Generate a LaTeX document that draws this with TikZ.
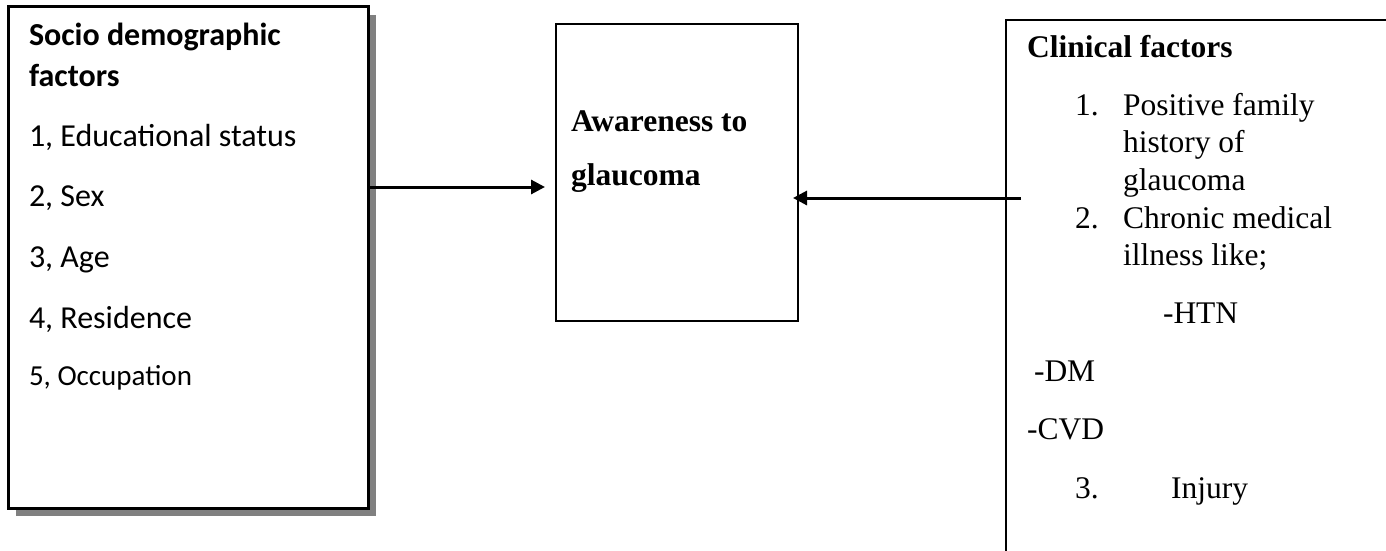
\documentclass[tikz,border=0pt]{standalone}
\usepackage{fontspec}
\setmainfont{Liberation Serif}
\newfontfamily\calib{Carlito}
\usetikzlibrary{arrows.meta,shadows}
\tikzset{
  box/.style={draw=black, rectangle, inner sep=0pt, outer sep=0pt, fill=white},
  arr/.style={line width=3pt, -{Triangle[length=14pt,width=14pt]}},
  txt/.style={anchor=base west, inner sep=0pt, outer sep=0pt},
  cfont/.style={font=\calib\fontsize{32}{38}\selectfont},
  cbold/.style={font=\calib\bfseries\fontsize{32}{38}\selectfont},
  tfont/.style={font=\fontsize{31.5}{38}\selectfont},
  tbold/.style={font=\bfseries\fontsize{31.5}{38}\selectfont},
}
\begin{document}
\begin{tikzpicture}[x=1pt,y=-1pt]
\clip (0,0) rectangle (1386,551);
\fill[white] (0,0) rectangle (1386,551);
% boxes
\node[box, line width=3pt, minimum width=360pt, minimum height=501pt,
  drop shadow={shadow xshift=8pt, shadow yshift=-8pt, fill=gray, opacity=1}]
  (sd) at (188,257.5) {};
\node[box, line width=2pt, minimum width=242pt, minimum height=297pt] (aw) at (677,172.5) {};
\node[box, line width=2pt, minimum width=494pt, minimum height=680pt] (cf) at (1253,360) {};
% left text
\node[txt, cbold] (s1) at (29,46) {Socio demographic};
\node[txt, cbold] (s2) at (29,86) {factors};
\node[txt, cfont] (s3) at (29,146) {1, Educational status};
\node[txt, cfont] (s4) at (29,206) {2, Sex};
\node[txt, cfont] (s5) at (29,267) {3, Age};
\node[txt, cfont] (s6) at (29,328) {4, Residence};
\node[txt, font=\calib\fontsize{29}{35}\selectfont] (s7) at (29,385) {5, Occupation};
% middle text
\node[txt, tbold] (m1) at (571,131) {Awareness to};
\node[txt, tbold] (m2) at (571,185) {glaucoma};
% right text
\node[txt, tbold] (c0) at (1027,58) {Clinical factors};
\node[txt, tfont] (c1n) at (1075,115) {1.};
\node[txt, tfont] (c1) at (1123,115) {Positive family};
\node[txt, tfont] (c1b) at (1123,152) {history of};
\node[txt, tfont] (c1c) at (1123,190) {glaucoma};
\node[txt, tfont] (c2n) at (1075,228) {2.};
\node[txt, tfont] (c2) at (1123,228) {Chronic medical};
\node[txt, tfont] (c2b) at (1123,265) {illness like;};
\node[txt, tfont] (c3) at (1163,323) {-HTN};
\node[txt, tfont] (c4) at (1034,381) {-DM};
\node[txt, tfont] (c5) at (1027,439) {-CVD};
\node[txt, tfont] (c6n) at (1075,498) {3.};
\node[txt, tfont] (c6) at (1171,498) {Injury};
% connectors
\coordinate (y1) at (0,187);
\coordinate (y2) at (0,198);
\draw[arr] (sd.east |- y1) -- ([xshift=-11pt]aw.west |- y1);
\draw[arr] ([xshift=15pt]cf.west |- y2) -- ([xshift=-5pt]aw.east |- y2);
\end{tikzpicture}
\end{document}
